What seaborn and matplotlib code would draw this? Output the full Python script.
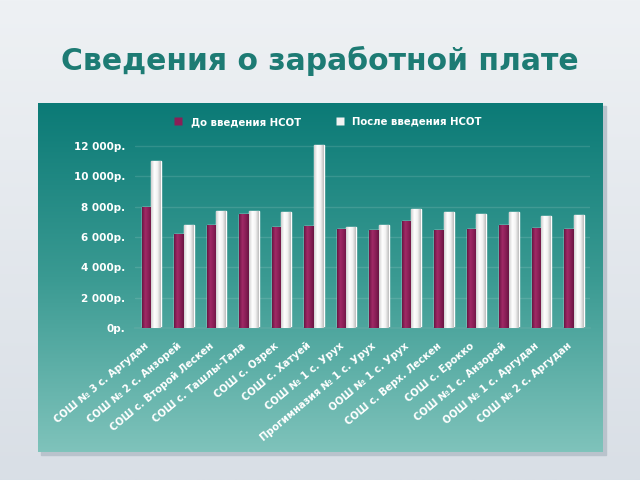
import numpy as np
import pandas as pd
import matplotlib
matplotlib.use("Agg")
import matplotlib.pyplot as plt
from matplotlib.colors import LinearSegmentedColormap
from matplotlib.patches import Rectangle
import matplotlib.transforms as mtransforms
import seaborn as sns

schools = ["СОШ № 3 с. Аргудан", "СОШ № 2 с. Анзорей", "СОШ с. Второй Лескен",
           "СОШ с. Ташлы-Тала", "СОШ с. Озрек", "СОШ с. Хатуей", "СОШ № 1 с. Урух",
           "Прогимназия № 1 с. Урух", "ООШ № 1 с. Урух", "СОШ с. Верх. Лескен",
           "СОШ с. Ерокко", "СОШ №1 с. Анзорей", "ООШ № 1 с. Аргудан",
           "СОШ № 2 с. Аргудан"]
before = [7950, 6230, 6820, 7500, 6690, 6760, 6510, 6490, 7040, 6450, 6510, 6780, 6580, 6560]
after = [11000, 6800, 7700, 7700, 7630, 12100, 6660, 6800, 7830, 7680, 7540, 7630, 7370, 7430]
series = ["До введения НСОТ", "После введения НСОТ"]
yticks = [0, 2000, 4000, 6000, 8000, 10000, 12000]
ytick_labels = ["0р.", "2 000р.", "4 000р.", "6 000р.", "8 000р.", "10 000р.", "12 000р."]

df = pd.DataFrame({
    "school": schools * 2,
    "value": before + after,
    "series": [series[0]] * len(schools) + [series[1]] * len(schools),
})

sns.set_theme(style="white")
plt.rcParams['font.family'] = ['DejaVu Sans']

fig = plt.figure(figsize=(6.4, 4.8), dpi=100)

# page background
bg = fig.add_axes([0, 0, 1, 1], zorder=-10)
bg_cmap = LinearSegmentedColormap.from_list("bg", ["#eef1f4", "#d9dfe6"])
bg.imshow(np.linspace(0, 1, 256).reshape(-1, 1), aspect="auto", cmap=bg_cmap,
          extent=[0, 1, 0, 1], transform=bg.transAxes)
bg.set_xlim(0, 1); bg.set_ylim(0, 1)
bg.axis("off")

# teal panel
px0, py0, px1, py1 = 38 / 640, 1 - 452 / 480, 603 / 640, 1 - 103 / 480
bg.add_patch(Rectangle((px0 + 0.004, py0 - 0.006), px1 - px0, py1 - py0,
                       color="#b9c3cc", zorder=1))
panel_cmap = LinearSegmentedColormap.from_list("panel", ["#7fc3bb", "#3a9a92", "#0b7a76"])
bg.imshow(np.linspace(0, 1, 256).reshape(-1, 1), aspect="auto", cmap=panel_cmap,
          origin="lower", extent=[px0, px1, py0, py1], zorder=2)

fig.text(0.5, 0.874, "Сведения о заработной плате", ha="center", va="center",
         fontsize=21.5, fontweight="bold", color="#1d7b74")

ax = fig.add_axes([135 / 640, 1 - 328 / 480, 455 / 640, (328 - 140) / 480])
ax.patch.set_alpha(0)
palette = {series[0]: "#8a1f57", series[1]: "#f2f2f2"}
sns.barplot(data=df, x="school", y="value", hue="series", palette=palette,
            width=0.6, ax=ax, legend=False, saturation=1)

# cylindrical shading on bars
bar_grad = {
    "#8a1f57": LinearSegmentedColormap.from_list("m", ["#6a1543", "#a02a66", "#8a1f57", "#6a1543"]),
    "#f2f2f2": LinearSegmentedColormap.from_list("w", ["#d0d0d0", "#ffffff", "#f2f2f2", "#bdbdbd"]),
}
for patch in list(ax.patches):
    fc = matplotlib.colors.to_hex(patch.get_facecolor())
    cmap = bar_grad.get(fc)
    if cmap is None:
        continue
    x, y = patch.get_x(), patch.get_y()
    w, h = patch.get_width(), patch.get_height()
    im = ax.imshow(np.linspace(0, 1, 64).reshape(1, -1), aspect="auto", cmap=cmap,
                   extent=[x, x + w, y, y + h], zorder=3)
    im.set_clip_path(patch)

ax.set_xlim(-0.5, len(schools) - 0.5)
ax.set_ylim(0, 12400)
ax.set_yticks(yticks)
ax.set_yticklabels(ytick_labels, color="white", fontweight="bold", fontsize=7.5)
ax.set_xticks(range(len(schools)))
ax.set_xticklabels(schools, rotation=40, ha="right", rotation_mode="anchor",
                   color="white", fontweight="bold", fontsize=7.2)
ax.tick_params(axis="y", length=0, pad=7)
ax.tick_params(axis="x", length=0, pad=4)
offset = mtransforms.ScaledTranslation(-7 / 100, -7 / 100, fig.dpi_scale_trans)
for lbl in ax.get_xticklabels():
    lbl.set_transform(lbl.get_transform() + offset)
ax.set_xlabel(""); ax.set_ylabel("")
ax.grid(axis="y", color="#ffffff", alpha=0.12, linewidth=1)
ax.set_axisbelow(True)
for s in ["top", "right", "left"]:
    ax.spines[s].set_visible(False)
ax.spines["bottom"].set_color("#5aa9a2")

handles = [plt.Line2D([], [], marker="s", linestyle="", markersize=6,
                      markerfacecolor=palette[s], markeredgecolor="none") for s in series]
leg = fig.legend(handles, series, loc="center", bbox_to_anchor=(0.508, 1 - 122 / 480),
                 ncol=2, frameon=False, columnspacing=2.9, handletextpad=0.2,
                 prop={"weight": "bold", "size": 7.3})
for t in leg.get_texts():
    t.set_color("white")

fig.savefig("out.png", dpi=100)
